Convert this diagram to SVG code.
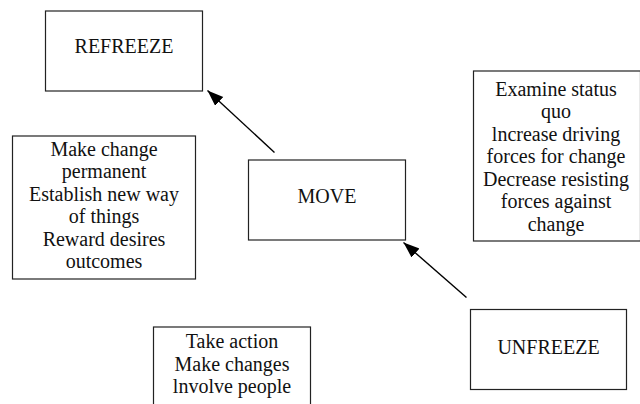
<svg xmlns="http://www.w3.org/2000/svg" width="640" height="404" viewBox="0 0 640 404">
<defs>
<style>
.box{fill:#fff;stroke:#222;stroke-width:1.2}
text{font-family:"Liberation Serif","Times New Roman",serif;font-size:20px;fill:#111;text-anchor:middle}
.conn{stroke:#000;stroke-width:1.4;fill:none}
</style>
<marker id="arr" markerUnits="userSpaceOnUse" markerWidth="18" markerHeight="14" refX="16" refY="6" orient="auto">
<path d="M0,0 L16,6 L0,12 Z" fill="#000"/>
</marker>
</defs>
<rect width="640" height="404" fill="#fff"/>
<g id="refreeze">
<rect class="box" x="45.5" y="11" width="157" height="80"/>
<text x="124" y="53">REFREEZE</text>
</g>
<g id="refreeze-notes">
<rect class="box" x="12.5" y="136" width="183" height="143"/>
<text x="104" y="155.5">Make change</text>
<text x="104" y="178">permanent</text>
<text x="104" y="200.5">Establish new way</text>
<text x="104" y="223">of things</text>
<text x="104" y="245.5">Reward desires</text>
<text x="104" y="268">outcomes</text>
</g>
<g id="move">
<rect class="box" x="248.5" y="160" width="157" height="80"/>
<text x="327" y="202.5">MOVE</text>
</g>
<g id="unfreeze-notes">
<rect class="box" x="473.5" y="71" width="167" height="170"/>
<text x="556" y="95.5">Examine status</text>
<text x="556" y="118">quo</text>
<text x="556" y="140.5">lncrease driving</text>
<text x="556" y="163">forces for change</text>
<text x="556" y="185.5">Decrease resisting</text>
<text x="556" y="208">forces against</text>
<text x="556" y="230.5">change</text>
</g>
<g id="move-notes">
<rect class="box" x="153.5" y="327" width="157" height="90"/>
<text x="232" y="348">Take action</text>
<text x="232" y="370.5">Make changes</text>
<text x="232" y="393">lnvolve people</text>
</g>
<g id="unfreeze">
<rect class="box" x="470.5" y="309.5" width="156" height="80"/>
<text x="548.5" y="354">UNFREEZE</text>
</g>
<g id="connectors">
<line class="conn" x1="274.5" y1="152.5" x2="207.5" y2="90.5" marker-end="url(#arr)"/>
<line class="conn" x1="466.5" y1="297.5" x2="403.5" y2="242.5" marker-end="url(#arr)"/>
</g>
</svg>
